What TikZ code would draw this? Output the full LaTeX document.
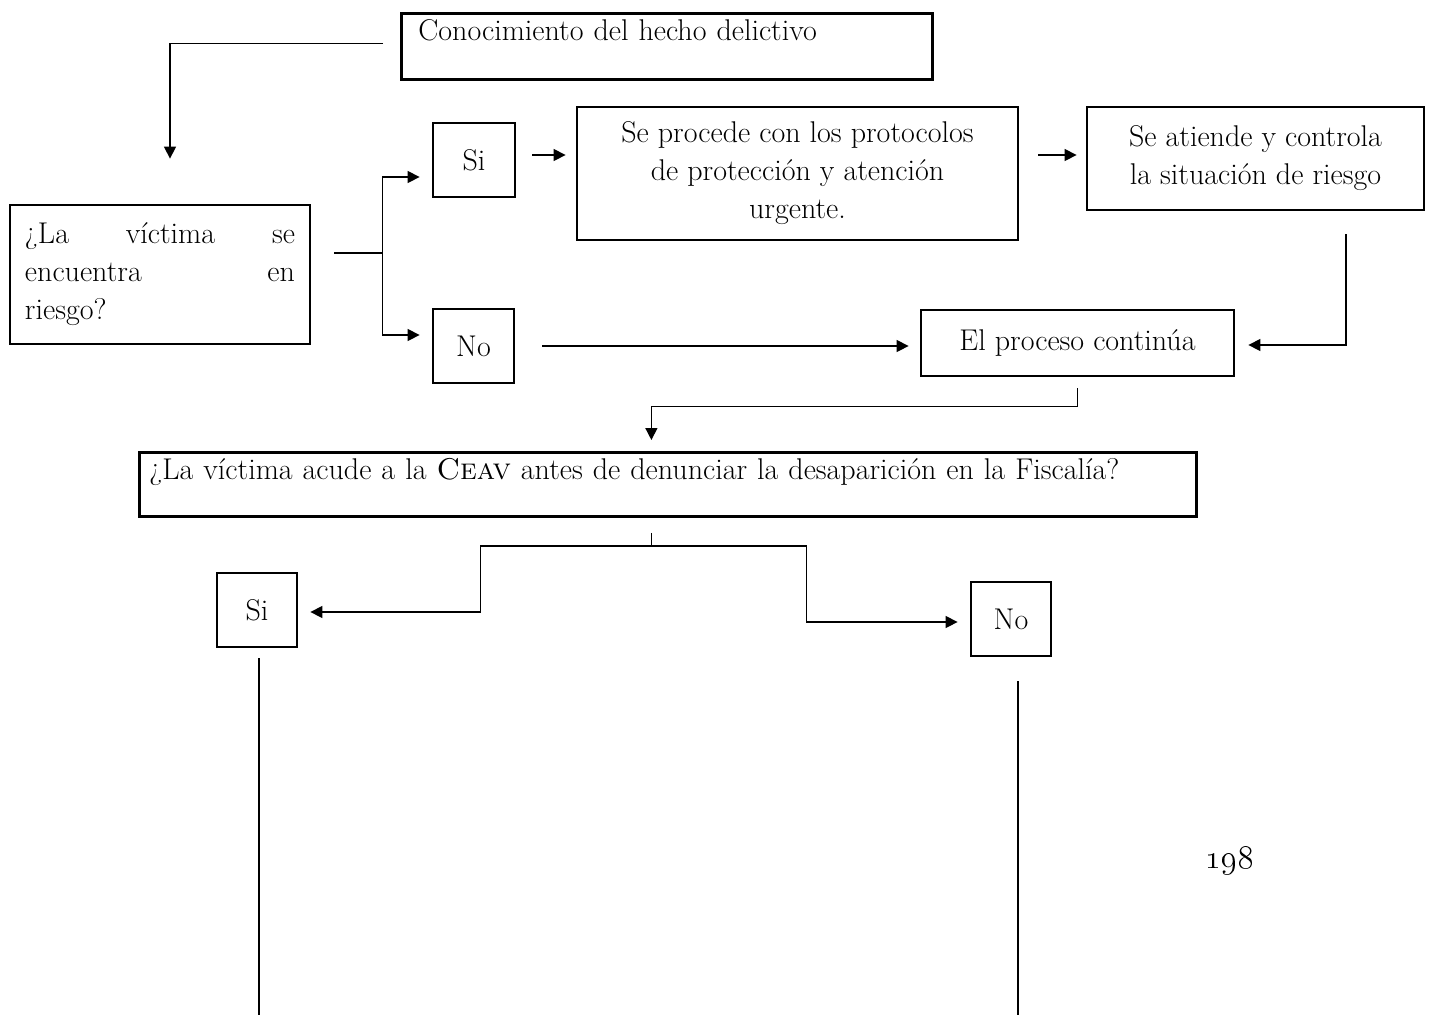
\documentclass[tikz,border=0pt]{standalone}
\usepackage{tikz}
\usetikzlibrary{positioning,arrows.meta}

\begin{document}
\begin{tikzpicture}[x=0.5pt,y=-0.5pt,
    font=\fontsize{15}{19}\selectfont,
    caja/.style={draw,line width=1.4pt,inner sep=0pt,align=center},
    linea/.style={line width=0.7pt},
    flecha/.style={line width=0.7pt,-{Triangle[length=6pt,width=6pt]}}]
    \useasboundingbox (0,0) rectangle (1432,1014);
    % primera parte
    \node[caja,anchor=north west,align=left,text width=248.5pt,inner xsep=8.5pt,inner ysep=2.5pt,text height=11pt,text depth=17pt] (conoc) at (400,12) {Conocimiento del hecho delictivo};
    \node[caja,align=left,text width=135pt,minimum width=150pt,minimum height=69.5pt] (riesgo) at (160,274.5) {¿La\hfill víctima\hfill se\\encuentra\hfill en\\riesgo?};
    \node[caja,minimum width=41pt,minimum height=37pt] (si1) at (474,160) {Si};
    \node[caja,minimum width=40.5pt,minimum height=37pt] (no1) at (473.5,346) {No};
    \node[caja,minimum width=220.5pt,minimum height=66.5pt] (proto) at (797.5,173.5) {Se procede con los protocolos\\de protección y atención\\urgente.};
    \node[caja,minimum width=168.5pt,minimum height=51.5pt] (atiende) at (1255.5,158.5) {Se atiende y controla\\la situación de riesgo};
    \node[caja,minimum width=156.5pt,minimum height=33pt] (continua) at (1077.5,343) {El proceso continúa};
    % segunda parte
    \node[caja,anchor=north west,align=left,text width=518.5pt,inner xsep=5pt,inner ysep=2.5pt,text height=11pt,text depth=16pt] (ceav) at (138,451) {\mbox{¿La víctima acude a la \textsc{Ceav} antes de denunciar la desaparición en la Fiscalía?}};
    \node[caja,minimum width=40pt,minimum height=37pt] (si2) at (257,610) {Si};
    \node[caja,minimum width=40pt,minimum height=37pt] (no2) at (1011,619) {No};
    \node[font=\fontsize{17}{20}\selectfont] (pagina) at (1230,861) {\oldstylenums{198}};

    % conectores
    \draw[flecha] ([xshift=-8.5pt,yshift=1.5pt]conoc.west) -| ([xshift=5pt,yshift=22.5pt]riesgo.north);
    \draw[linea] ([xshift=11.5pt,yshift=10.75pt]riesgo.east) -- ++(24pt,0) coordinate (rama1);
    \draw[flecha] (rama1) |- ([xshift=-6pt,yshift=-8.5pt]si1.west);
    \draw[flecha] (rama1) |- ([xshift=-6pt,yshift=5.5pt]no1.west);
    \draw[flecha] ([xshift=8pt,yshift=2.5pt]si1.east) -- ([xshift=-5pt,yshift=9.25pt]proto.west);
    \draw[flecha] ([xshift=9.5pt,yshift=9.25pt]proto.east) -- ([xshift=-4.5pt,yshift=1.75pt]atiende.west);
    \draw[flecha] ([xshift=45.25pt,yshift=-11.5pt]atiende.south) |- ([xshift=6.5pt,yshift=-1pt]continua.east);
    \draw[flecha] ([xshift=13.5pt]no1.east) -- ([xshift=-5.5pt,yshift=-1.5pt]continua.west);
    \draw[flecha] ([yshift=-5.5pt]continua.south) -- ++(0,-9pt) -| ([xshift=-8.25pt,yshift=5.5pt]ceav.north);
    \draw[linea] ([xshift=-8.25pt,yshift=-7.5pt]ceav.south) -- ++(0,-6.5pt) coordinate (rama2);
    \draw[flecha] (rama2) -- ++(-85.5pt,0) |- ([xshift=6pt,yshift=-1pt]si2.east);
    \draw[flecha] (rama2) -- ++(77.5pt,0) |- ([xshift=-6pt,yshift=-1.5pt]no2.west);
    \draw[linea] ([xshift=1pt,yshift=-5pt]si2.south) -- ++(0,-178.5pt);
    \draw[linea] ([xshift=3.5pt,yshift=-12pt]no2.south) -- ++(0,-167pt);
  \end{tikzpicture}
\end{document}
